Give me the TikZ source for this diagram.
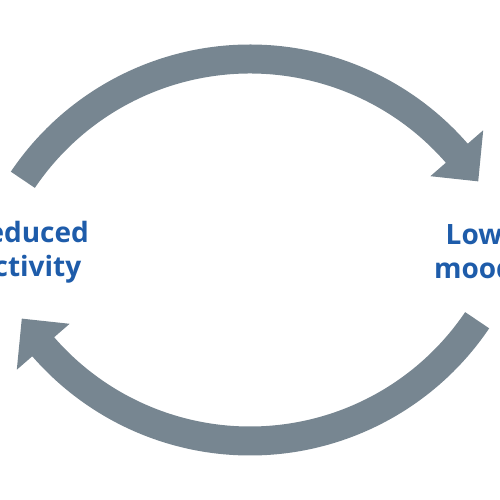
\documentclass[tikz,border=0pt]{standalone}
\usepackage{fontspec}
\setmainfont{Open Sans}
\definecolor{arrowgray}{RGB}{119,134,145}
\definecolor{labelblue}{RGB}{30,92,170}
\begin{document}
\begin{tikzpicture}[x=1pt,y=1pt,
  cyclearrow/.style={fill=arrowgray, draw=none},
  label/.style={text=labelblue, font=\bfseries\fontsize{28}{34}\selectfont, align=center, inner sep=0pt}]
\useasboundingbox (0,0) rectangle (500,500);
\node[label] (reduced) at (29,248) {Reduced\\activity};
\node[label] (low) at (474,248) {Low\\mood};
\coordinate (ctop) at (250,167);
\coordinate (cbot) at (250,333);
% top arrow: from reduced activity to low mood
\fill[cyclearrow, shift={(ctop)}]
  (146:288.5pt) arc[start angle=146, end angle=41, radius=288.5pt]
  -- (41:309pt) -- (33.6:274pt) -- (41:239pt) -- (41:259.5pt)
  arc[start angle=41, end angle=146, radius=259.5pt] -- cycle;
% bottom arrow: from low mood to reduced activity
\fill[cyclearrow, shift={(cbot)}]
  (-34:288.5pt) arc[start angle=-34, end angle=-139, radius=288.5pt]
  -- (-139:309pt) -- (-146.4:274pt) -- (-139:239pt) -- (-139:259.5pt)
  arc[start angle=-139, end angle=-34, radius=259.5pt] -- cycle;
\end{tikzpicture}
\end{document}
